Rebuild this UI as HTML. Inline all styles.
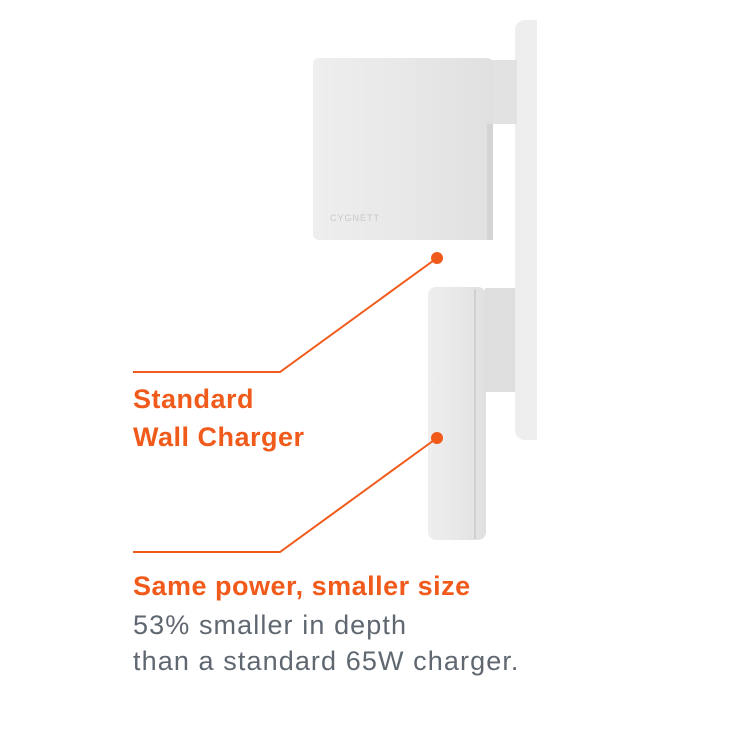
<!DOCTYPE html>
<html><head><style>
body{margin:0;width:732px;height:732px;background:#fff;position:relative;overflow:hidden;font-family:"Liberation Sans",sans-serif}
.t{position:absolute;left:133px;white-space:nowrap}
.o{color:#f05a1a;font-weight:bold;font-size:27px;letter-spacing:0.5px}
.g{color:#5f6770;font-size:27px;letter-spacing:1.1px}
</style></head><body>
<svg width="732" height="732" style="position:absolute;left:0;top:0">
<defs>
<linearGradient id="a" x1="0" x2="1"><stop offset="0" stop-color="#eeeeee"/><stop offset="0.5" stop-color="#e8e8e8"/><stop offset="1" stop-color="#e0e0e0"/></linearGradient>
</defs>
<rect x="515" y="20" width="22" height="420" rx="10" fill="#eeeeee"/>
<rect x="530" y="20" width="7" height="420" fill="#eeeeee"/>
<rect x="480" y="60" width="37" height="64" fill="#e2e2e2"/>
<rect x="313" y="58" width="180" height="182" rx="6" fill="url(#a)"/>
<rect x="487" y="124" width="6" height="116" fill="#d4d4d4"/>
<text x="330" y="221" font-size="9" fill="#c8c8c8" font-family="Liberation Sans" letter-spacing="1">CYGNETT</text>
<rect x="485" y="288" width="30" height="104" fill="#dedede"/>
<rect x="428" y="287" width="58" height="253" rx="8" fill="url(#a)"/>
<rect x="474" y="289" width="2" height="250" fill="#d0d0d0"/>
<g stroke="#f05a1a" stroke-width="2" fill="none">
<polyline points="437,258 280,372 133,372"/>
<polyline points="437,438 280,552 133,552"/>
</g>
<circle cx="437" cy="258" r="6" fill="#f05a1a"/>
<circle cx="437" cy="438" r="6" fill="#f05a1a"/>
</svg>
<div class="t o" style="top:384px">Standard</div>
<div class="t o" style="top:422px">Wall Charger</div>
<div class="t o" style="top:571px">Same power, smaller size</div>
<div class="t g" style="top:610px">53% smaller in depth</div>
<div class="t g" style="top:646px">than a standard 65W charger.</div>
</body></html>
